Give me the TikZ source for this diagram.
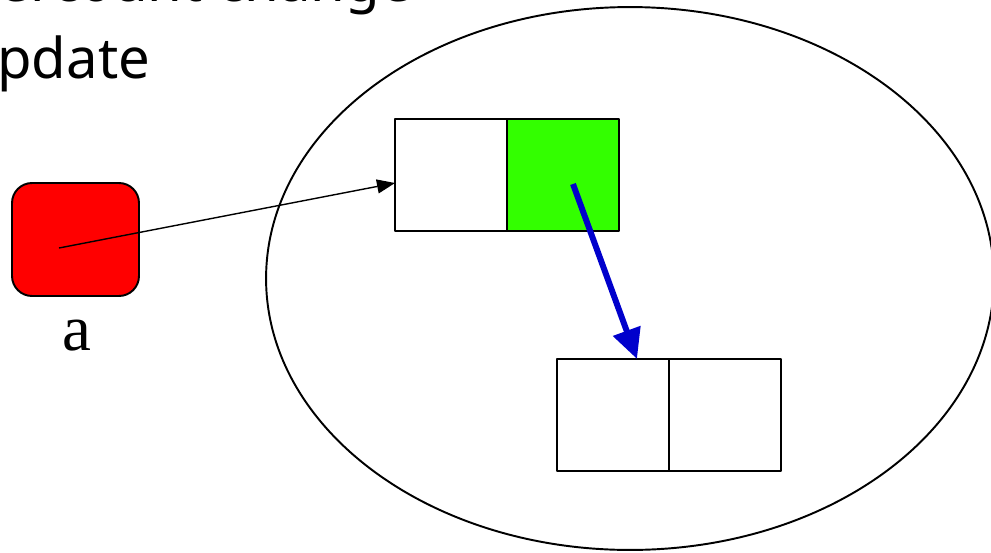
\documentclass[tikz,border=0pt]{standalone}
\usepackage{fontspec}
\setmainfont{Liberation Serif}
\newfontfamily\slidefont{Noto Sans}
\usetikzlibrary{arrows.meta,calc,positioning,shapes.geometric}
\definecolor{boxred}{RGB}{255,0,0}
\definecolor{cellgreen}{RGB}{51,255,0}
\definecolor{ptrblue}{RGB}{0,0,204}

\begin{document}
\begin{tikzpicture}[x=0.02cm,y=-0.02cm,line join=round,
  cell/.style={draw,line width=1.1pt,minimum width=2.24cm,minimum height=2.24cm,inner sep=0pt,outer sep=0pt},
  ptrbox/.style={draw,fill=boxred,line width=1.1pt,rounded corners=0.4cm,minimum width=2.54cm,minimum height=2.26cm,inner sep=0pt},
  heapshape/.style={draw,ellipse,line width=1.1pt,minimum width=14.56cm,minimum height=10.86cm,inner sep=0pt},
  slidetext/.style={anchor=base west,inner sep=0pt,font=\slidefont\fontsize{32}{36}\selectfont}]
\useasboundingbox (0,0) rectangle (991,552);
\clip (0,0) rectangle (991,552);
% slide title, cut off by the frame
\node[slidetext] (line1) at (-2,1) {ercount change};
\node[slidetext] (line2) at (-3,78) {pdate};
% heap
\node[heapshape] (heap) at (630,278.5) {};
\node[cell] (cellA) at (451,175) {};
\node[cell,fill=cellgreen,right=0pt of cellA] (cellB) {};
\node[cell] (cellC) at (613,415) {};
\node[cell,right=0pt of cellC] (cellD) {};
% variable a
\node[ptrbox] (ptr) at (75.5,239.5) {};
\node[font=\fontsize{37}{40}\selectfont] (alab) at (77,336) {a};
% pointers
\coordinate (src) at (59,248);
\draw[line width=0.8pt,-{Triangle[length=0.36cm,width=0.28cm]}] (src) -- ([yshift=-0.16cm]cellA.west);
\draw[ptrblue,line width=3.4pt,-{Triangle[length=0.6cm,width=0.56cm]}] ([shift={(0.2cm,-0.18cm)}]cellB.center) -- ([xshift=0.48cm]cellC.north);
\end{tikzpicture}
\end{document}
